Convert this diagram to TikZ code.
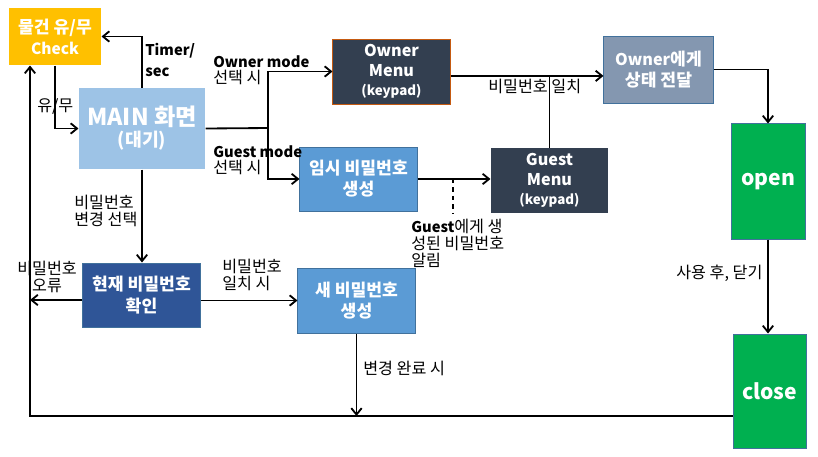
\documentclass[tikz,border=0pt]{standalone}
\usepackage{fontspec}
\setmainfont{Noto Sans CJK KR}
\usetikzlibrary{positioning, arrows.meta}
\definecolor{chkorange}{HTML}{FFC000}
\definecolor{mainblue}{HTML}{9DC3E6}
\definecolor{menudark}{HTML}{333F50}
\definecolor{menuedge}{HTML}{C55A11}
\definecolor{midblue}{HTML}{5B9BD5}
\definecolor{edgeblue}{HTML}{41719C}
\definecolor{greyblue}{HTML}{8497B0}
\definecolor{deepblue}{HTML}{2F5597}
\definecolor{doorgreen}{HTML}{00B050}
\newcommand{\latin}[1]{{\bfseries\fontsize{10.5}{12}\selectfont #1}}

\begin{document}
\begin{tikzpicture}[x=0.025cm, y=-0.025cm,
    box/.style={draw=edgeblue, line width=0.7pt, text=white, align=center, inner sep=0pt,
      font=\bfseries\fontsize{12.2}{15}\selectfont},
    lbl/.style={anchor=north west, inner sep=0pt, align=left,
      font=\fontsize{11.5}{12}\selectfont},
    line/.style={line width=1.3pt},
    arr/.style={line width=1.3pt, -{Straight Barb[length=1.6mm, width=2.6mm, line width=1.3pt]}}]
  \useasboundingbox (0,0) rectangle (818,456);

  % boxes
  \node[box, draw=none, fill=chkorange, minimum width=2.3cm, minimum height=1.425cm] (chk) at (55,36.5)
    {물건 유/무\\{\fontsize{11}{14}\selectfont Check}};
  \node[box, draw=none, fill=mainblue, minimum width=3.15cm, minimum height=2.025cm] (main) at (142,128.5)
    {{\fontsize{16.5}{20}\selectfont MAIN 화면}\\{\fontsize{13}{15}\selectfont (대기)}};
  \node[box, draw=menuedge, fill=menudark, minimum width=2.925cm, minimum height=1.625cm,
    font=\bfseries\fontsize{11.5}{14}\selectfont] (own) at (391.5,71.5)
    {Owner\\Menu\\{\fontsize{9.5}{12}\selectfont (keypad)}};
  \node[box, fill=midblue, minimum width=2.925cm, minimum height=1.6cm] (tmp) at (358.5,179) {임시 비밀번호\\생성};
  \node[box, draw=none, fill=menudark, minimum width=2.925cm, minimum height=1.625cm,
    font=\bfseries\fontsize{11.5}{14}\selectfont] (gst) at (549.5,180.5)
    {Guest\\Menu\\{\fontsize{9.5}{12}\selectfont (keypad)}};
  \node[box, fill=greyblue, minimum width=2.725cm, minimum height=1.675cm] (rep) at (658.5,69.5)
    {{\fontsize{11.5}{15}\selectfont Owner}에게\\상태 전달};
  \node[box, fill=doorgreen, minimum width=1.85cm, minimum height=2.875cm,
    font=\bfseries\fontsize{15}{18}\selectfont] (opn) at (768,181.5) {open};
  \node[box, fill=doorgreen, minimum width=1.825cm, minimum height=2.85cm,
    font=\bfseries\fontsize{15}{18}\selectfont] (cls) at (769.5,391) {close};
  \node[box, fill=deepblue, minimum width=2.925cm, minimum height=1.6cm] (cur) at (141.5,295) {현재 비밀번호\\확인};
  \node[box, fill=midblue, minimum width=2.925cm, minimum height=1.625cm] (new) at (356.5,300.5) {새 비밀번호\\생성};

  % helper points
  \coordinate (jn) at (268,128);
  \coordinate (dtop) at (453,179);
  \coordinate (dend) at (453,213);
  \coordinate (err) at (30,300);
  \coordinate (loop) at (30,416);

  % connectors
  \draw[arr] (main.north) |- (chk.east);
  \draw[arr] (chk.south) |- (main.west);
  \draw[line] (main.east) -- (jn);
  \draw[arr] (jn) |- (own.west);
  \draw[arr] (jn) |- (tmp.west);
  \draw[arr] ([yshift=-0.11cm]own.east) -- ([yshift=-0.11cm]own.east -| rep.west);
  \draw[line] (gst.north) -- ([yshift=-0.11cm]gst.north |- own.east);
  \draw[arr] (tmp.east) -- (tmp.east -| gst.west);
  \draw[line, dashed] (dtop) -- (dend);
  \draw[arr] (rep.east) -| (opn.north);
  \draw[arr] (opn.south) -- (opn.south |- cls.north);
  \draw[arr] (main.south) -- (main.south |- cur.north);
  \draw[arr] (new.west -| cur.east) -- (new.west);
  \draw[arr] (err -| cur.west) -- (err);
  \draw[arr] (new.south) -- (new.south |- loop);
  \draw[arr] (cls.west |- loop) -- (loop) -- (loop |- chk.south);

  % labels
  \node[lbl, font=\bfseries\fontsize{10.5}{15}\selectfont] (ltimer) at (145,43) {Timer/\\sec};
  \node[lbl] (lhave) at (37,98) {유/무};
  \node[lbl] (lowner) at (213,55) {\latin{Owner mode}\\선택 시};
  \node[lbl] (lguest) at (213,145) {\latin{Guest mode}\\선택 시};
  \node[lbl] (lmatch) at (488,79) {비밀번호 일치};
  \node[lbl] (lnotify) at (411,219) {\latin{Guest}에게 생\\성된 비밀번호\\알림};
  \node[lbl] (lclose) at (676,265) {사용 후, 닫기};
  \node[lbl] (lchange) at (74,195) {비밀번호\\변경 선택};
  \node[lbl, align=center] (lerr) at (17,261) {비밀번호\\오류};
  \node[lbl] (lok) at (222,259) {비밀번호\\일치 시};
  \node[lbl] (ldone) at (363,361) {변경 완료 시};
\end{tikzpicture}
\end{document}
